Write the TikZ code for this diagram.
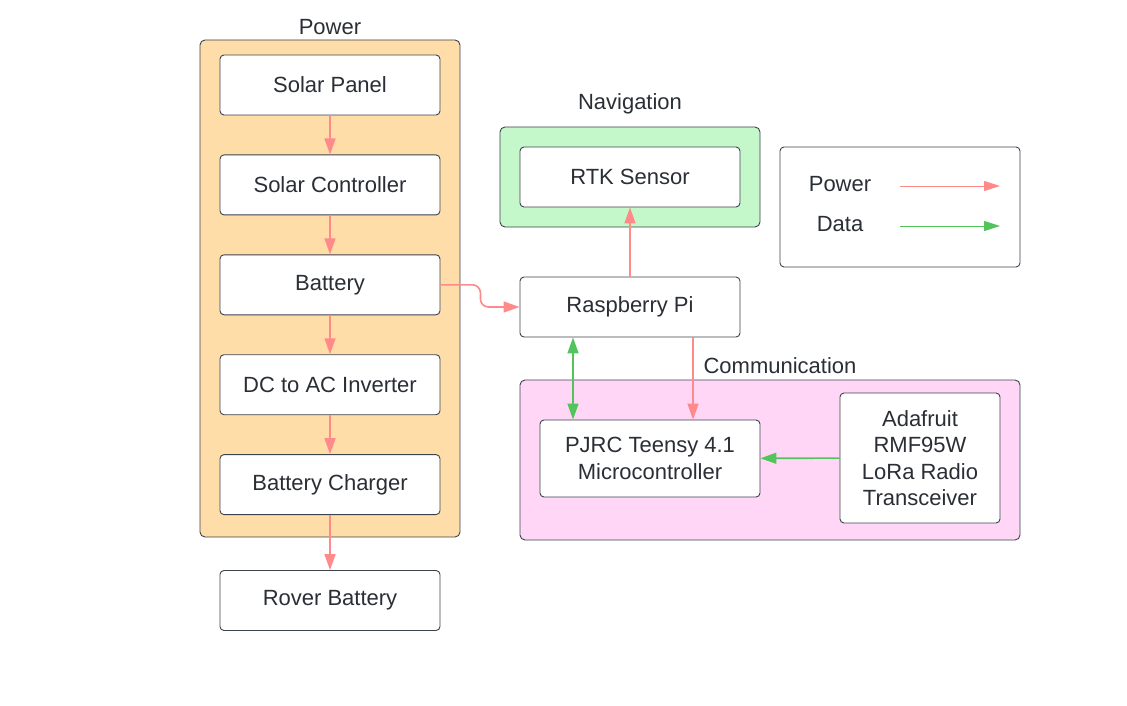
\documentclass[tikz,border=0pt]{standalone}
\usepackage{fontspec}
\setmainfont{Liberation Sans}
\usepackage{xcolor}
\definecolor{lineGrey}{HTML}{3D434C}
\definecolor{textDark}{HTML}{2A2E35}
\definecolor{powerBg}{HTML}{FFDDA8}
\definecolor{navBg}{HTML}{C4F7C9}
\definecolor{commBg}{HTML}{FFD6F6}
\definecolor{powerLine}{HTML}{FF8A8A}
\definecolor{dataLine}{HTML}{52C45C}
\usetikzlibrary{positioning,arrows.meta}
\tikzset{%
  unitBox/.style={%
    rectangle,
    rounded corners=4pt,
    draw=lineGrey,
    line width=0.9pt,
    fill=white,
    minimum width=220pt,
    minimum height=60pt,
    align=center,
    text=textDark,
    font=\fontsize{22}{26.5}\selectfont
  },
  groupBox/.style={%
    rectangle,
    rounded corners=5pt,
    draw=lineGrey,
    line width=0.9pt,
    inner sep=0pt
  },
  groupLabel/.style={%
    text=textDark,
    inner sep=0pt,
    font=\fontsize{22}{26}\selectfont
  },
  powerArrow/.style={%
    -{Triangle[length=16pt,width=11pt]},
    line width=1.6pt,
    color=powerLine
  },
  dataArrow/.style={%
    -{Triangle[length=16pt,width=11pt]},
    line width=1.6pt,
    color=dataLine
  },
  keyArrow/.style={%
    -{Triangle[length=16pt,width=10pt]},
    line width=1pt
  }
}

\begin{document}
\begin{tikzpicture}[x=1pt,y=-1pt,node distance=39pt]
  \useasboundingbox (0,0) rectangle (1127,706);

  % groups
  \node[groupBox, fill=powerBg, minimum width=260pt, minimum height=497pt] (powerGroup) at (330,288.5) {};
  \node[groupLabel] (powerTitle) at (330,27) {Power};
  \node[groupBox, fill=navBg, minimum width=260pt, minimum height=100pt] (navGroup) at (630,177) {};
  \node[groupLabel] (navTitle) at (630,104) {Navigation};
  \node[groupBox, fill=commBg, minimum width=500pt, minimum height=160pt] (commGroup) at (770,460) {};
  \node[groupLabel] (commTitle) at (780,366) {Communication};

  % power chain
  \node[unitBox] (solarPanel) at (330,85) {Solar Panel};
  \node[unitBox, below=of solarPanel] (solarCtrl) {Solar Controller};
  \node[unitBox, below=of solarCtrl] (battery) {Battery};
  \node[unitBox, below=of battery] (inverter) {DC to AC Inverter};
  \node[unitBox, below=of inverter] (charger) {Battery Charger};
  \node[unitBox, below=55pt of charger] (roverBattery) {Rover Battery};

  % navigation and communication
  \node[unitBox] (rtk) at (630,177) {RTK Sensor};
  \node[unitBox] (rpi) at (630,307) {Raspberry Pi};
  \node[unitBox, minimum height=77pt] (teensy) at (650,458.5) {PJRC Teensy 4.1\\Microcontroller};
  \node[unitBox, minimum width=160pt, minimum height=130pt] (lora) at (920,458) {Adafruit\\RMF95W\\LoRa Radio\\Transceiver};

  % legend
  \node[unitBox, minimum width=240pt, minimum height=120pt] (legend) at (900,207) {};
  \node[groupLabel] (powerKey) at (840,184) {Power};
  \node[groupLabel] (dataKey) at (840,224) {Data};
  \coordinate (powerKeyA) at (900,186);
  \coordinate (powerKeyB) at (1000,186);
  \coordinate (dataKeyA) at (900,226);
  \coordinate (dataKeyB) at (1000,226);
  \draw[keyArrow, color=powerLine] (powerKeyA) -- (powerKeyB);
  \draw[keyArrow, color=dataLine] (dataKeyA) -- (dataKeyB);

  \draw[powerArrow] (solarPanel) -- (solarCtrl);
  \draw[powerArrow] (solarCtrl) -- (battery);
  \draw[powerArrow] (battery) -- (inverter);
  \draw[powerArrow] (inverter) -- (charger);
  \draw[powerArrow] (charger) -- (roverBattery);
  \draw[powerArrow, rounded corners=8pt] (battery.east) -- ++(40,0) |- (rpi.west);
  \draw[powerArrow] (rpi) -- (rtk);
  \draw[powerArrow] ([xshift=63pt]rpi.south) -- ([xshift=63pt]rpi.south |- teensy.north);
  \draw[dataArrow, {Triangle[length=16pt,width=11pt]}-{Triangle[length=16pt,width=11pt]}] ([xshift=-57pt]rpi.south) -- ([xshift=-57pt]rpi.south |- teensy.north);
  \draw[dataArrow] (lora) -- (teensy);
\end{tikzpicture}
\end{document}
